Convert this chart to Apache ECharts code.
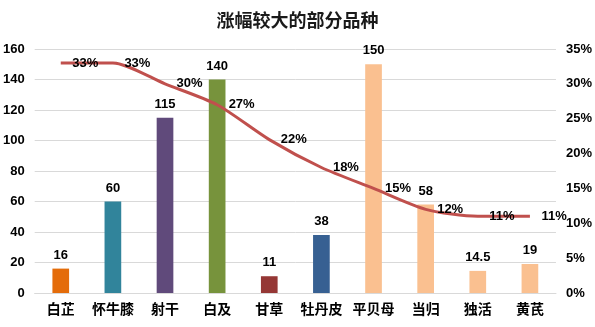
<!DOCTYPE html>
<html>
<head>
<meta charset="utf-8">
<script src="https://cdn.jsdelivr.net/npm/echarts@6/dist/echarts.min.js"></script>
<style>
  html, body { margin: 0; padding: 0; background: #fff; }
  #chart { width: 595px; height: 327px; }
</style>
</head>
<body>
<div id="chart"></div>
<script>
// Herbs with the largest price increases: price (bars) and rise (line)
const categories = ['白芷', '怀牛膝', '射干', '白及', '甘草', '牡丹皮', '平贝母', '当归', '独活', '黄芪'];
const prices = [16, 60, 115, 140, 11, 38, 150, 58, 14.5, 19];
const rises = [0.33, 0.33, 0.30, 0.27, 0.22, 0.18, 0.15, 0.12, 0.11, 0.11];
const barColors = ['#E46C0A', '#31849B', '#604A7B', '#77933C', '#953735', '#376092', '#FAC090', '#FAC090', '#FAC090', '#FAC090'];
const leftTicks = { min: 0, max: 160, interval: 20 };
const rightTicks = { min: 0, max: 0.35, interval: 0.05 };

const numFont = '"Liberation Sans", Arial, sans-serif';
const cjkFont = '"Noto Sans CJK SC", sans-serif';

const chart = echarts.init(document.getElementById('chart'), null, { renderer: 'canvas' });

chart.setOption({
  animation: false,
  title: {
    text: '涨幅较大的部分品种',
    left: 'center',
    top: 6,
    textStyle: { fontFamily: cjkFont, fontSize: 18, fontWeight: 'bold', color: '#1a1a1a' }
  },
  grid: { left: 33, right: 39, top: 49, bottom: 34, containLabel: false },
  xAxis: {
    type: 'category',
    data: categories,
    axisLine: { show: true, lineStyle: { color: '#D9D9D9', width: 1 } },
    axisTick: { show: false },
    axisLabel: {
      interval: 0,
      margin: 9,
      fontFamily: cjkFont, fontSize: 14, fontWeight: 'bold', color: '#000'
    }
  },
  yAxis: [
    {
      type: 'value',
      min: leftTicks.min, max: leftTicks.max, interval: leftTicks.interval,
      axisLine: { show: false },
      axisTick: { show: false },
      splitLine: { lineStyle: { color: '#D9D9D9', width: 1 } },
      axisLabel: {
        margin: 10,
        fontFamily: numFont, fontSize: 13, fontWeight: 'bold', color: '#000'
      }
    },
    {
      type: 'value',
      min: rightTicks.min, max: rightTicks.max, interval: rightTicks.interval,
      axisLine: { show: false },
      axisTick: { show: false },
      splitLine: { show: false },
      axisLabel: {
        margin: 10,
        fontFamily: numFont, fontSize: 13, fontWeight: 'bold', color: '#000',
        formatter: v => Math.round(v * 100) + '%'
      }
    }
  ],
  series: [
    {
      type: 'bar',
      yAxisIndex: 0,
      barWidth: '32%',
      data: prices.map((v, i) => ({ value: v, itemStyle: { color: barColors[i] } })),
      label: {
        show: true,
        position: 'top',
        distance: 7,
        fontFamily: numFont, fontSize: 13, fontWeight: 'bold', color: '#000'
      },
      z: 2
    },
    {
      type: 'line',
      yAxisIndex: 1,
      data: rises,
      smooth: 0.25,
      symbol: 'circle',
      symbolSize: 1,
      itemStyle: { color: 'rgba(0,0,0,0)' },
      lineStyle: { color: '#C0504D', width: 3 },
      label: {
        show: true,
        position: 'right',
        distance: 11,
        fontFamily: numFont, fontSize: 13, fontWeight: 'bold', color: '#000',
        formatter: p => Math.round(p.value * 100) + '%'
      },
      z: 3
    }
  ]
});
</script>
</body>
</html>
